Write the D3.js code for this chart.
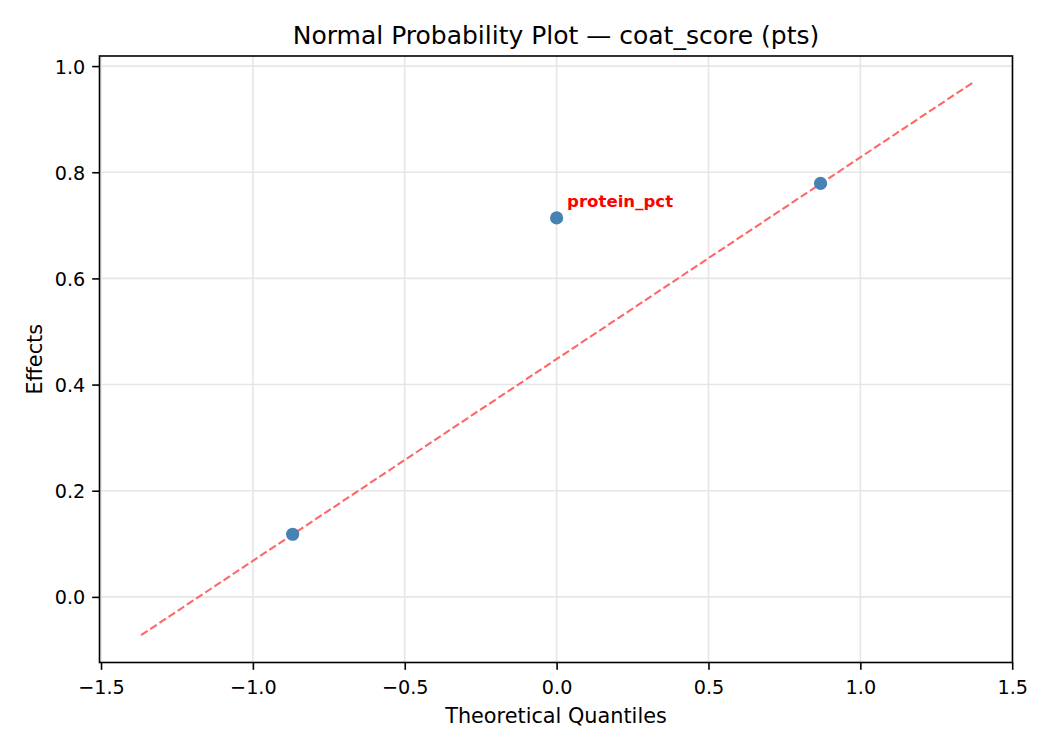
<!DOCTYPE html>
<html>
<head>
<meta charset="utf-8">
<script src="https://cdn.jsdelivr.net/npm/d3@7/dist/d3.min.js"></script>
<style>
  html, body { margin: 0; padding: 0; background: #ffffff; }
  svg { display: block; font-family: "DejaVu Sans", sans-serif; }
</style>
</head>
<body>
<svg id="chart" width="1050" height="750"></svg>
<script>
// ---- data ----
const factorNames = ["f1", "protein_pct", "f3"];
const theoreticalQuantiles = [-0.869, 0.0, 0.869];
const effects = [0.118, 0.714, 0.779];
const labelledFactors = ["protein_pct"];
const refLineX = [-1.368, 1.368];
const refLineY = [-0.072, 0.968];
const xTicks = [-1.5, -1.0, -0.5, 0.0, 0.5, 1.0, 1.5];
const yTicks = [0.0, 0.2, 0.4, 0.6, 0.8, 1.0];
const xDomain = [-1.505, 1.501];
const yDomain = [-0.1236, 1.019];

// ---- layout ----
const svg = d3.select("#chart");
const L = 99.5, R = 1012.5, T = 56, B = 662.5;

const x = d3.scaleLinear().domain(xDomain).range([L, R]);
const y = d3.scaleLinear().domain(yDomain).range([B, T]);

const fmt = d => (d < 0 ? "\u2212" : "") + Math.abs(d).toFixed(1);

// grid
const grid = svg.append("g");
grid.selectAll("line.gx").data(xTicks).enter().append("line")
  .attr("x1", d => x(d)).attr("x2", d => x(d))
  .attr("y1", T).attr("y2", B)
  .attr("stroke", "#e6e6e6").attr("stroke-width", 1.6);
grid.selectAll("line.gy").data(yTicks).enter().append("line")
  .attr("y1", d => y(d)).attr("y2", d => y(d))
  .attr("x1", L).attr("x2", R)
  .attr("stroke", "#e6e6e6").attr("stroke-width", 1.6);

// reference line
const lineData = refLineX.map((v, i) => [v, refLineY[i]]);
svg.append("path")
  .datum(lineData)
  .attr("d", d3.line().x(d => x(d[0])).y(d => y(d[1])))
  .attr("fill", "none")
  .attr("stroke", "#ff6666")
  .attr("stroke-width", 2.08)
  .attr("stroke-dasharray", "7.7,3.3");

// points
const pts = theoreticalQuantiles.map((q, i) => ({ q, e: effects[i], name: factorNames[i] }));
svg.selectAll("circle.pt").data(pts).enter().append("circle")
  .attr("cx", d => x(d.q)).attr("cy", d => y(d.e))
  .attr("r", 6.6)
  .attr("fill", "#4682b4");

// annotations
svg.selectAll("text.ann").data(pts.filter(d => labelledFactors.includes(d.name))).enter()
  .append("text")
  .attr("x", d => x(d.q) + 10.4)
  .attr("y", d => y(d.e) - 10.4)
  .attr("fill", "#ff0000")
  .attr("font-weight", "bold")
  .attr("font-size", "16.6px")
  .text(d => d.name);

// axes
const xAxis = d3.axisBottom(x).tickValues(xTicks).tickFormat(fmt).tickSize(7.3).tickPadding(7);
const yAxis = d3.axisLeft(y).tickValues(yTicks).tickFormat(fmt).tickSize(7.3).tickPadding(7);

const gx = svg.append("g").attr("transform", `translate(0,${B})`).call(xAxis);
const gy = svg.append("g").attr("transform", `translate(${L},0)`).call(yAxis);
[gx, gy].forEach(g => {
  g.select(".domain").remove();
  g.selectAll(".tick line").attr("stroke", "#000").attr("stroke-width", 1.6);
  g.selectAll(".tick text").attr("fill", "#000")
    .attr("font-size", "19.2px").attr("font-family", "DejaVu Sans, sans-serif");
});
gx.selectAll(".tick text").attr("dy", null).attr("y", 31)
  .attr("dominant-baseline", "alphabetic");
gy.selectAll(".tick text").attr("dy", "0.36em");

// spines
svg.append("rect")
  .attr("x", L).attr("y", T).attr("width", R - L).attr("height", B - T)
  .attr("fill", "none").attr("stroke", "#000").attr("stroke-width", 1.6);

// labels
svg.append("text")
  .attr("x", (L + R) / 2).attr("y", 43.5)
  .attr("text-anchor", "middle")
  .attr("font-size", "25px").attr("fill", "#000")
  .text("Normal Probability Plot \u2014 coat_score (pts)");

svg.append("text")
  .attr("x", (L + R) / 2).attr("y", 723)
  .attr("text-anchor", "middle")
  .attr("font-size", "20.8px").attr("fill", "#000")
  .text("Theoretical Quantiles");

svg.append("text")
  .attr("transform", `translate(41.5,${(T + B) / 2}) rotate(-90)`)
  .attr("text-anchor", "middle")
  .attr("font-size", "20.8px").attr("fill", "#000")
  .text("Effects");
</script>
</body>
</html>
